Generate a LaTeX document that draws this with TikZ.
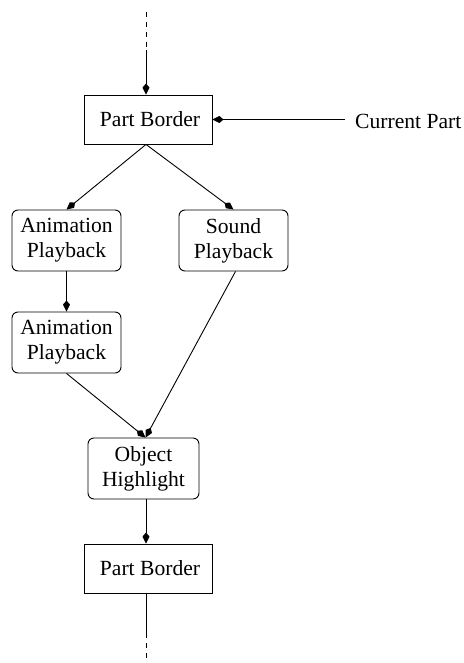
\documentclass[tikz,border=0pt]{standalone}
\usepackage{fontspec}
\setmainfont{Liberation Serif}
\newfontfamily\tmsfont{Liberation Serif}
\usetikzlibrary{arrows.meta}
\begin{document}
\begin{tikzpicture}[x=1pt,y=-1pt,
  every node/.style={font=\tmsfont\fontsize{21.6}{25}\selectfont, align=center, inner sep=0pt},
  sqbox/.style={draw, line width=0.9pt, minimum width=128pt, minimum height=49pt},
  rbox/.style={draw, line width=0.9pt, rounded corners=6pt, minimum width=109pt, minimum height=61pt},
  conn/.style={line width=0.9pt, -{Kite[length=11pt,width=7pt,inset=4pt]}},
  plain/.style={line width=0.9pt},
  dsh/.style={line width=0.9pt, dash pattern=on 5pt off 5pt}]
\useasboundingbox (0,0) rectangle (463,663);
\node[sqbox] (b1) at (148,119.5) {\hspace*{4pt}Part Border};
\node[anchor=west] (cp) at (355,121) {Current Part};
\node[rbox] (a1) at (66.5,240.5) {Animation\\Playback};
\node[rbox] (s1) at (233.5,240.5) {Sound\\Playback};
\node[rbox] (a2) at (66.5,342.5) {Animation\\Playback};
\node[rbox, minimum width=111pt] (oh) at (143.5,468.5) {Object\\Highlight};
\node[sqbox] (b2) at (148,568.5) {\hspace*{4pt}Part Border};
\coordinate (t0) at (146,12);
\coordinate (t1) at (146,50);
\coordinate (bt0) at (146,633);
\coordinate (bt1) at (146,660);
\coordinate (cpl) at (345,119.5);
\draw[dsh] (t0) -- (t1);
\draw[conn] (t1) -- (b1.north -| t1);
\draw[conn] (cpl) -- (b1.east);
\draw[conn] (b1.south -| t1) -- (a1.north);
\draw[conn] (b1.south -| t1) -- (s1.north);
\draw[conn] (a1.south) -- (a2.north);
\draw[conn] (a2.south) -- ([xshift=2pt]oh.north);
\draw[conn] ([xshift=2pt]s1.south) -- ([xshift=2pt]oh.north);
\draw[conn] (oh.south -| t1) -- (b2.north -| t1);
\draw[plain] (b2.south -| t1) -- (bt0);
\draw[dsh] (bt0) -- (bt1);
\end{tikzpicture}
\end{document}
